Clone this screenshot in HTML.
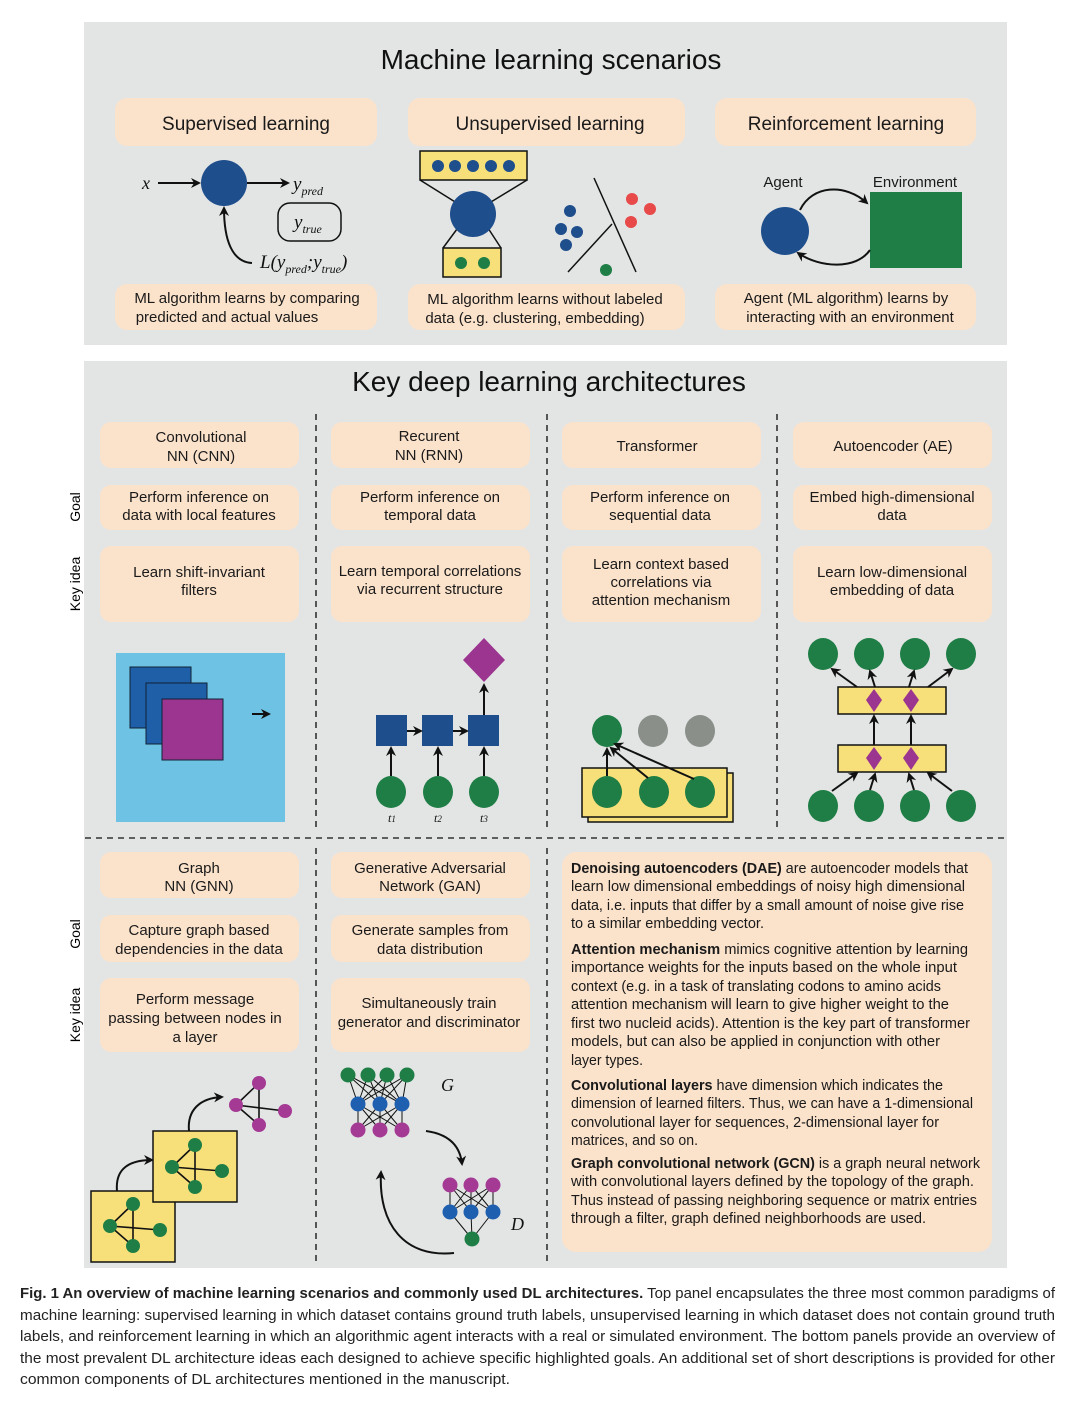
<!DOCTYPE html>
<html><head><meta charset="utf-8"><style>
html,body{margin:0;padding:0;background:#fff;}
svg{display:block;font-family:"Liberation Sans",sans-serif;}
.t{font-size:15px;fill:#1a1a1a;text-anchor:middle;}
.h{font-size:19px;fill:#1a1a1a;text-anchor:middle;}
.r{font-size:14.6px;fill:#1a1a1a;}
.c{font-size:14.3px;fill:#222;}
.b{fill:#fbe2cb;}
.ar{stroke:#111;stroke-width:2;fill:none;marker-end:url(#a);}
.ln{stroke:#111;stroke-width:1.5;}
.dash{stroke:#333;stroke-width:1.6;stroke-dasharray:6,5;}
.it{font-family:"Liberation Serif",serif;font-style:italic;fill:#111;}
</style></head><body>
<svg width="1080" height="1406" viewBox="0 0 1080 1406" xmlns="http://www.w3.org/2000/svg">
<defs>
<marker id="a" markerWidth="10" markerHeight="10" refX="8" refY="5" orient="auto" markerUnits="userSpaceOnUse"><path d="M0,0 L10,5 L0,10 L3,5 Z" fill="#111"/></marker>
</defs>
<!-- TOP PANEL -->
<rect x="84" y="22" width="923" height="323" fill="#e3e5e5"/>
<text x="551" y="69" style="font-size:28px;text-anchor:middle;fill:#111">Machine learning scenarios</text>
<rect class="b" x="115" y="98" width="262" height="48" rx="12"/>
<rect class="b" x="408" y="98" width="277" height="48" rx="12"/>
<rect class="b" x="715" y="98" width="261" height="48" rx="12"/>
<text class="h" x="246" y="130">Supervised learning</text>
<text class="h" x="550" y="130">Unsupervised learning</text>
<text class="h" x="846" y="130">Reinforcement learning</text>
<rect class="b" x="115" y="284" width="262" height="46" rx="12"/>
<rect class="b" x="408" y="284" width="277" height="46" rx="12"/>
<rect class="b" x="715" y="284" width="261" height="46" rx="12"/>
<text class="t" x="247" y="303">ML algorithm learns by comparing</text>
<text class="t" x="227" y="322">predicted and actual values</text>
<text class="t" x="545" y="304">ML algorithm learns without labeled</text>
<text class="t" x="535" y="323">data (e.g. clustering, embedding)</text>
<text class="t" x="846" y="303">Agent (ML algorithm) learns by</text>
<text class="t" x="850" y="322">interacting with an environment</text>
<!-- supervised -->
<text class="it" x="142" y="189" style="font-size:18px">x</text>
<line class="ar" x1="158" y1="183" x2="199" y2="183"/>
<circle cx="224" cy="183" r="23" fill="#1f4e8c"/>
<line class="ar" x1="247" y1="183" x2="288" y2="183"/>
<text class="it" x="293" y="190" style="font-size:19px">y<tspan dy="5" style="font-size:12px">pred</tspan></text>
<rect x="278" y="203" width="63" height="38" rx="12" fill="none" stroke="#111" stroke-width="1.5"/>
<text class="it" x="294" y="228" style="font-size:19px">y<tspan dy="5" style="font-size:12px">true</tspan></text>
<path class="ar" d="M252,263 C232,262 224,240 224,208"/>
<text class="it" x="260" y="268" style="font-size:19px">L(y<tspan dy="5" style="font-size:12px">pred</tspan><tspan dy="-5">;y</tspan><tspan dy="5" style="font-size:12px">true</tspan><tspan dy="-5">)</tspan></text>
<!-- unsupervised -->
<line class="ln" x1="420" y1="180" x2="460" y2="205"/><line class="ln" x1="527" y1="180" x2="486" y2="205"/>
<line class="ln" x1="443" y1="248" x2="460" y2="225"/><line class="ln" x1="501" y1="248" x2="486" y2="225"/>
<rect x="420" y="151" width="107" height="29" fill="#f7e07a" stroke="#111" stroke-width="1.5"/>
<g fill="#1f4e8c"><circle cx="438" cy="166" r="6"/><circle cx="455" cy="166" r="6"/><circle cx="473" cy="166" r="6"/><circle cx="491" cy="166" r="6"/><circle cx="509" cy="166" r="6"/></g>
<circle cx="473" cy="214" r="23" fill="#1f4e8c"/>
<rect x="443" y="248" width="58" height="29" fill="#f7e07a" stroke="#111" stroke-width="1.5"/>
<circle cx="461" cy="263" r="6" fill="#1e7e45"/><circle cx="484" cy="263" r="6" fill="#1e7e45"/>
<line class="ln" x1="594" y1="178" x2="636" y2="272"/>
<line class="ln" x1="568" y1="272" x2="612" y2="224"/>
<g fill="#1f4e8c"><circle cx="570" cy="211" r="6"/><circle cx="561" cy="229" r="6"/><circle cx="577" cy="232" r="6"/><circle cx="566" cy="245" r="6"/></g>
<g fill="#e84a4a"><circle cx="632" cy="199" r="6"/><circle cx="650" cy="209" r="6"/><circle cx="631" cy="222" r="6"/></g>
<circle cx="606" cy="270" r="6" fill="#1e7e45"/>
<!-- RL -->
<text class="t" x="783" y="187">Agent</text>
<text class="t" x="915" y="187">Environment</text>
<circle cx="785" cy="231" r="24" fill="#1f4e8c"/>
<rect x="870" y="192" width="92" height="76" fill="#1e7e45"/>
<path class="ar" d="M800,210 C812,185 845,183 867,203"/>
<path class="ar" d="M870,250 C856,270 820,268 798,253"/>
<!-- BOTTOM PANEL -->
<rect x="84" y="361" width="923" height="907" fill="#e3e5e5"/>
<text x="549" y="391" style="font-size:28px;text-anchor:middle;fill:#111">Key deep learning architectures</text>
<line class="dash" x1="316" y1="414" x2="316" y2="830"/>
<line class="dash" x1="547" y1="414" x2="547" y2="830"/>
<line class="dash" x1="777" y1="414" x2="777" y2="830"/>
<line class="dash" x1="85" y1="838" x2="1007" y2="838"/>
<line class="dash" x1="316" y1="848" x2="316" y2="1265"/>
<line class="dash" x1="547" y1="848" x2="547" y2="1265"/>
<text x="80" y="507" transform="rotate(-90 80 507)" style="font-size:14px;text-anchor:middle">Goal</text>
<text x="80" y="584" transform="rotate(-90 80 584)" style="font-size:14px;text-anchor:middle">Key idea</text>
<text x="80" y="934" transform="rotate(-90 80 934)" style="font-size:14px;text-anchor:middle">Goal</text>
<text x="80" y="1015" transform="rotate(-90 80 1015)" style="font-size:14px;text-anchor:middle">Key idea</text>
<g class="b">
<rect x="100" y="422" width="199" height="46" rx="11"/><rect x="331" y="422" width="199" height="46" rx="11"/><rect x="562" y="422" width="199" height="46" rx="11"/><rect x="793" y="422" width="199" height="46" rx="11"/>
<rect x="100" y="485" width="199" height="45" rx="11"/><rect x="331" y="485" width="199" height="45" rx="11"/><rect x="562" y="485" width="199" height="45" rx="11"/><rect x="793" y="485" width="199" height="45" rx="11"/>
<rect x="100" y="546" width="199" height="76" rx="11"/><rect x="331" y="546" width="199" height="76" rx="11"/><rect x="562" y="546" width="199" height="76" rx="11"/><rect x="793" y="546" width="199" height="76" rx="11"/>
<rect x="100" y="852" width="199" height="46" rx="11"/><rect x="331" y="852" width="199" height="46" rx="11"/>
<rect x="100" y="915" width="199" height="47" rx="11"/><rect x="331" y="915" width="199" height="47" rx="11"/>
<rect x="100" y="978" width="199" height="74" rx="11"/><rect x="331" y="978" width="199" height="74" rx="11"/>
<rect x="562" y="852" width="430" height="400" rx="14"/>
</g>
<text class="t" x="201" y="442">Convolutional</text><text class="t" x="201" y="461">NN (CNN)</text>
<text class="t" x="429" y="441">Recurent</text><text class="t" x="429" y="460">NN (RNN)</text>
<text class="t" x="657" y="451">Transformer</text>
<text class="t" x="893" y="451">Autoencoder (AE)</text>
<text class="t" x="199" y="502">Perform inference on</text><text class="t" x="199" y="520">data with local features</text>
<text class="t" x="430" y="502">Perform inference on</text><text class="t" x="430" y="520">temporal data</text>
<text class="t" x="660" y="502">Perform inference on</text><text class="t" x="660" y="520">sequential data</text>
<text class="t" x="892" y="502">Embed high-dimensional</text><text class="t" x="892" y="520">data</text>
<text class="t" x="199" y="577">Learn shift-invariant</text><text class="t" x="199" y="595">filters</text>
<text class="t" x="430" y="576">Learn temporal correlations</text><text class="t" x="430" y="594">via recurrent structure</text>
<text class="t" x="661" y="569">Learn context based</text><text class="t" x="661" y="587">correlations via</text><text class="t" x="661" y="605">attention mechanism</text>
<text class="t" x="892" y="577">Learn low-dimensional</text><text class="t" x="892" y="595">embedding of data</text>
<text class="t" x="199" y="873">Graph</text><text class="t" x="199" y="891">NN (GNN)</text>
<text class="t" x="430" y="873">Generative Adversarial</text><text class="t" x="430" y="891">Network (GAN)</text>
<text class="t" x="199" y="935">Capture graph based</text><text class="t" x="199" y="954">dependencies in the data</text>
<text class="t" x="430" y="935">Generate samples from</text><text class="t" x="430" y="954">data distribution</text>
<text class="t" x="195" y="1004">Perform message</text><text class="t" x="195" y="1023">passing between nodes in</text><text class="t" x="195" y="1042">a layer</text>
<text class="t" x="429" y="1008">Simultaneously train</text><text class="t" x="429" y="1027">generator and discriminator</text>
<!-- CNN -->
<rect x="116" y="653" width="169" height="169" fill="#6ec3e4"/>
<rect x="130" y="667" width="61" height="61" fill="#1e5fa8" stroke="#123" stroke-width="1"/>
<rect x="146" y="683" width="61" height="61" fill="#1e5fa8" stroke="#123" stroke-width="1"/>
<rect x="162" y="699" width="61" height="61" fill="#9b3590" stroke="#123" stroke-width="1"/>
<line class="ar" x1="252" y1="714" x2="269" y2="714"/>
<!-- RNN -->
<polygon points="484,638 505,660 484,682 463,660" fill="#9b3590"/>
<line class="ar" x1="484" y1="715" x2="484" y2="685"/>
<rect x="376" y="715" width="31" height="31" fill="#1f4e8c"/><rect x="422" y="715" width="31" height="31" fill="#1f4e8c"/><rect x="468" y="715" width="31" height="31" fill="#1f4e8c"/>
<line class="ar" x1="407" y1="731" x2="421" y2="731"/><line class="ar" x1="453" y1="731" x2="467" y2="731"/>
<g fill="#1e7e45"><ellipse cx="391" cy="792" rx="15" ry="16"/><ellipse cx="438" cy="792" rx="15" ry="16"/><ellipse cx="484" cy="792" rx="15" ry="16"/></g>
<line class="ar" x1="391" y1="776" x2="391" y2="748"/><line class="ar" x1="438" y1="776" x2="438" y2="748"/><line class="ar" x1="484" y1="776" x2="484" y2="748"/>
<text class="it" x="388" y="822" style="font-size:12px">t<tspan style="font-size:9px">1</tspan></text>
<text class="it" x="434" y="822" style="font-size:12px">t<tspan style="font-size:9px">2</tspan></text>
<text class="it" x="480" y="822" style="font-size:12px">t<tspan style="font-size:9px">3</tspan></text>
<!-- Transformer -->
<ellipse cx="607" cy="731" rx="15" ry="16" fill="#1e7e45"/><ellipse cx="653" cy="731" rx="15" ry="16" fill="#8a8f8a"/><ellipse cx="700" cy="731" rx="15" ry="16" fill="#8a8f8a"/>
<rect x="588" y="773" width="145" height="49" fill="#f7e07a" stroke="#111" stroke-width="1.5"/>
<rect x="582" y="768" width="145" height="49" fill="#f7e07a" stroke="#111" stroke-width="1.5"/>
<g fill="#1e7e45"><ellipse cx="607" cy="792" rx="15" ry="16"/><ellipse cx="654" cy="792" rx="15" ry="16"/><ellipse cx="700" cy="792" rx="15" ry="16"/></g>
<line class="ar" x1="607" y1="776" x2="607" y2="749"/><line class="ar" x1="648" y1="778" x2="611" y2="748"/><line class="ar" x1="694" y1="779" x2="615" y2="744"/>
<!-- AE -->
<g fill="#1e7e45"><ellipse cx="823" cy="654" rx="15" ry="16"/><ellipse cx="869" cy="654" rx="15" ry="16"/><ellipse cx="915" cy="654" rx="15" ry="16"/><ellipse cx="961" cy="654" rx="15" ry="16"/>
<ellipse cx="823" cy="806" rx="15" ry="16"/><ellipse cx="869" cy="806" rx="15" ry="16"/><ellipse cx="915" cy="806" rx="15" ry="16"/><ellipse cx="961" cy="806" rx="15" ry="16"/></g>
<rect x="838" y="687" width="108" height="27" fill="#f7e07a" stroke="#111" stroke-width="1.5"/>
<rect x="838" y="745" width="108" height="27" fill="#f7e07a" stroke="#111" stroke-width="1.5"/>
<g fill="#9b3590"><polygon points="874,689 882,700 874,712 866,700"/><polygon points="911,689 919,700 911,712 903,700"/><polygon points="874,747 882,758 874,770 866,758"/><polygon points="911,747 919,758 911,770 903,758"/></g>
<line class="ar" x1="857" y1="687" x2="832" y2="669"/><line class="ar" x1="875" y1="687" x2="870" y2="671"/><line class="ar" x1="909" y1="687" x2="914" y2="671"/><line class="ar" x1="928" y1="687" x2="952" y2="669"/>
<line class="ar" x1="874" y1="745" x2="874" y2="716"/><line class="ar" x1="911" y1="745" x2="911" y2="716"/>
<line class="ar" x1="832" y1="791" x2="857" y2="773"/><line class="ar" x1="870" y1="790" x2="875" y2="774"/><line class="ar" x1="914" y1="790" x2="909" y2="774"/><line class="ar" x1="952" y1="791" x2="928" y2="773"/>
<!-- GNN -->
<path class="ar" d="M117,1191 C115,1168 130,1160 152,1160"/>
<path class="ar" d="M189,1131 C187,1110 200,1098 222,1097"/>
<rect x="91" y="1191" width="84" height="71" fill="#f7e07a" stroke="#111" stroke-width="1.5"/>
<g stroke="#111" stroke-width="1.6"><line x1="110" y1="1226" x2="133" y2="1204"/><line x1="110" y1="1226" x2="160" y2="1230"/><line x1="110" y1="1226" x2="133" y2="1246"/><line x1="133" y1="1204" x2="133" y2="1246"/></g>
<g fill="#1e7e45"><circle cx="133" cy="1204" r="7"/><circle cx="110" cy="1226" r="7"/><circle cx="160" cy="1230" r="7"/><circle cx="133" cy="1246" r="7"/></g>
<rect x="153" y="1131" width="84" height="71" fill="#f7e07a" stroke="#111" stroke-width="1.5"/>
<g stroke="#111" stroke-width="1.6"><line x1="172" y1="1167" x2="195" y2="1145"/><line x1="172" y1="1167" x2="222" y2="1171"/><line x1="172" y1="1167" x2="195" y2="1187"/><line x1="195" y1="1145" x2="195" y2="1187"/></g>
<g fill="#1e7e45"><circle cx="195" cy="1145" r="7"/><circle cx="172" cy="1167" r="7"/><circle cx="222" cy="1171" r="7"/><circle cx="195" cy="1187" r="7"/></g>
<g stroke="#111" stroke-width="1.6"><line x1="236" y1="1105" x2="259" y2="1083"/><line x1="236" y1="1105" x2="285" y2="1111"/><line x1="236" y1="1105" x2="259" y2="1125"/><line x1="259" y1="1083" x2="259" y2="1125"/></g>
<g fill="#a43a94"><circle cx="259" cy="1083" r="7"/><circle cx="236" cy="1105" r="7"/><circle cx="285" cy="1111" r="7"/><circle cx="259" cy="1125" r="7"/></g>
<!-- GAN -->
<g stroke="#111" stroke-width="1">
<path d="M348,1075 L358,1104 M348,1075 L380,1104 M348,1075 L402,1104 M368,1075 L358,1104 M368,1075 L380,1104 M368,1075 L402,1104 M387,1075 L358,1104 M387,1075 L380,1104 M387,1075 L402,1104 M407,1075 L358,1104 M407,1075 L380,1104 M407,1075 L402,1104"/>
<path d="M358,1104 L358,1130 M358,1104 L380,1130 M358,1104 L402,1130 M380,1104 L358,1130 M380,1104 L380,1130 M380,1104 L402,1130 M402,1104 L358,1130 M402,1104 L380,1130 M402,1104 L402,1130"/>
<path d="M450,1185 L450,1212 M450,1185 L471,1212 M450,1185 L493,1212 M471,1185 L450,1212 M471,1185 L471,1212 M471,1185 L493,1212 M493,1185 L450,1212 M493,1185 L471,1212 M493,1185 L493,1212 M450,1212 L472,1239 M471,1212 L472,1239 M493,1212 L472,1239"/>
</g>
<g fill="#1e7e45"><circle cx="348" cy="1075" r="7.5"/><circle cx="368" cy="1075" r="7.5"/><circle cx="387" cy="1075" r="7.5"/><circle cx="407" cy="1075" r="7.5"/><circle cx="472" cy="1239" r="7.5"/></g>
<g fill="#1f5fb0"><circle cx="358" cy="1104" r="7.5"/><circle cx="380" cy="1104" r="7.5"/><circle cx="402" cy="1104" r="7.5"/><circle cx="450" cy="1212" r="7.5"/><circle cx="471" cy="1212" r="7.5"/><circle cx="493" cy="1212" r="7.5"/></g>
<g fill="#a43a94"><circle cx="358" cy="1130" r="7.5"/><circle cx="380" cy="1130" r="7.5"/><circle cx="402" cy="1130" r="7.5"/><circle cx="450" cy="1185" r="7.5"/><circle cx="471" cy="1185" r="7.5"/><circle cx="493" cy="1185" r="7.5"/></g>
<text class="it" x="441" y="1091" style="font-size:18px">G</text>
<text class="it" x="511" y="1230" style="font-size:18px">D</text>
<path class="ar" d="M426,1131 C448,1134 460,1145 462,1164"/>
<path class="ar" d="M454,1253 C405,1258 378,1225 381,1172"/>
<!-- right text -->
<g class="r">
<text x="571" y="873" textLength="397" lengthAdjust="spacingAndGlyphs"><tspan font-weight="bold">Denoising autoencoders (DAE)</tspan> are autoencoder models that</text>
<text x="571" y="891" textLength="394" lengthAdjust="spacingAndGlyphs">learn low dimensional embeddings of noisy high dimensional</text>
<text x="571" y="910" textLength="393" lengthAdjust="spacingAndGlyphs">data, i.e. inputs that differ by a small amount of noise give rise</text>
<text x="571" y="928" textLength="193" lengthAdjust="spacingAndGlyphs">to a similar embedding vector.</text>
<text x="571" y="954" textLength="397" lengthAdjust="spacingAndGlyphs"><tspan font-weight="bold">Attention mechanism</tspan> mimics cognitive attention by learning</text>
<text x="571" y="972" textLength="386" lengthAdjust="spacingAndGlyphs">importance weights for the inputs based on the whole input</text>
<text x="571" y="991" textLength="370" lengthAdjust="spacingAndGlyphs">context (e.g. in a task of translating codons to amino acids</text>
<text x="571" y="1009" textLength="378" lengthAdjust="spacingAndGlyphs">attention mechanism will learn to give higher weight to the</text>
<text x="571" y="1028" textLength="399" lengthAdjust="spacingAndGlyphs">first two nucleid acids). Attention is the key part of transformer</text>
<text x="571" y="1046" textLength="369" lengthAdjust="spacingAndGlyphs">models, but can also be applied in conjunction with other</text>
<text x="571" y="1065" textLength="72" lengthAdjust="spacingAndGlyphs">layer types.</text>
<text x="571" y="1090" textLength="372" lengthAdjust="spacingAndGlyphs"><tspan font-weight="bold">Convolutional layers</tspan> have dimension which indicates the</text>
<text x="571" y="1108" textLength="402" lengthAdjust="spacingAndGlyphs">dimension of learned filters. Thus, we can have a 1-dimensional</text>
<text x="571" y="1127" textLength="368" lengthAdjust="spacingAndGlyphs">convolutional layer for sequences, 2-dimensional layer for</text>
<text x="571" y="1145" textLength="127" lengthAdjust="spacingAndGlyphs">matrices, and so on.</text>
<text x="571" y="1168" textLength="409" lengthAdjust="spacingAndGlyphs"><tspan font-weight="bold">Graph convolutional network (GCN)</tspan> is a graph neural network</text>
<text x="571" y="1186" textLength="403" lengthAdjust="spacingAndGlyphs">with convolutional layers defined by the topology of the graph.</text>
<text x="571" y="1205" textLength="406" lengthAdjust="spacingAndGlyphs">Thus instead of passing neighboring sequence or matrix entries</text>
<text x="571" y="1223" textLength="355" lengthAdjust="spacingAndGlyphs">through a filter, graph defined neighborhoods are used.</text>
</g>
<!-- caption -->
<g class="c">
<text x="20" y="1298" textLength="1035" lengthAdjust="spacingAndGlyphs"><tspan font-weight="bold">Fig. 1 An overview of machine learning scenarios and commonly used DL architectures.</tspan> Top panel encapsulates the three most common paradigms of</text>
<text x="20" y="1320" textLength="1035" lengthAdjust="spacingAndGlyphs">machine learning: supervised learning in which dataset contains ground truth labels, unsupervised learning in which dataset does not contain ground truth</text>
<text x="20" y="1341" textLength="1035" lengthAdjust="spacingAndGlyphs">labels, and reinforcement learning in which an algorithmic agent interacts with a real or simulated environment. The bottom panels provide an overview of</text>
<text x="20" y="1363" textLength="1035" lengthAdjust="spacingAndGlyphs">the most prevalent DL architecture ideas each designed to achieve specific highlighted goals. An additional set of short descriptions is provided for other</text>
<text x="20" y="1384" textLength="490" lengthAdjust="spacingAndGlyphs">common components of DL architectures mentioned in the manuscript.</text>
</g>
</svg>
</body></html>
